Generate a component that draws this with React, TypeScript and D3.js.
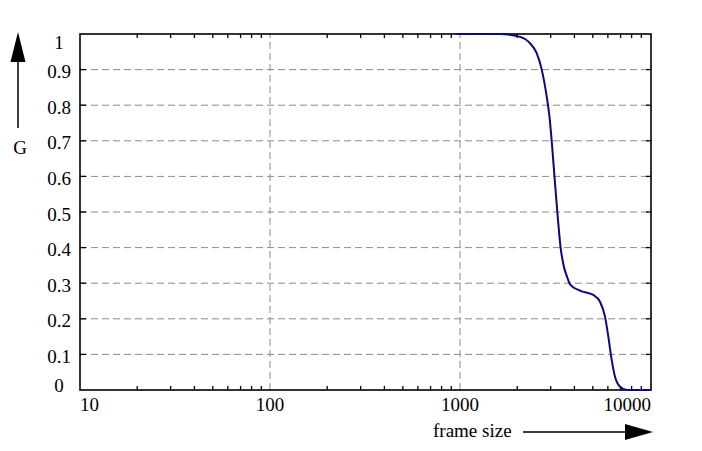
import { useEffect, useRef } from "react";
import * as d3 from "d3";

// frame size vs G
const frameSize = [
  960, 1274, 1624, 2070, 2336, 2533, 2692, 2860, 2958, 3050, 3144, 3252, 3388, 3505, 3688, 3793,
  4281, 5030, 5456, 5797, 6033, 6287, 6545, 6952, 7541, 8500, 10120,
];
const gValue = [
  1.0, 1.0, 1.0, 0.992, 0.974, 0.946, 0.9, 0.824, 0.767, 0.688, 0.598, 0.5, 0.398, 0.351, 0.313, 0.297,
  0.279, 0.267, 0.248, 0.206, 0.15, 0.084, 0.037, 0.009, 0.0, 0.0, 0.0,
];
const xTickValues = [10, 100, 1000, 10000];
const xTickLabels = ["10", "100", "1000", "10000"];
const yTickValues = [0, 0.1, 0.2, 0.3, 0.4, 0.5, 0.6, 0.7, 0.8, 0.9, 1];
const yTickLabels = ["0", "0.1", "0.2", "0.3", "0.4", "0.5", "0.6", "0.7", "0.8", "0.9", "1"];

const W = 702;
const H = 451;
const m = { left: 80, right: 51, top: 34, bottom: 61 };
const FONT = "'Liberation Serif', 'Times New Roman', serif";

export default function App() {
  const ref = useRef<SVGSVGElement>(null);

  useEffect(() => {
    const svg = d3.select(ref.current);
    svg.selectAll("*").remove();

    const x0 = m.left;
    const x1 = W - m.right;
    const y0 = H - m.bottom;
    const y1 = m.top;

    const x = d3.scaleLog().domain([10, 10120]).range([x0, x1]);
    const y = d3.scaleLinear().domain([0, 1]).range([y0, y1]);

    svg.append("rect").attr("width", W).attr("height", H).attr("fill", "#fff");

    // grid
    const grid = svg.append("g").attr("stroke", "#8a8a8a").attr("stroke-width", 1).attr("stroke-dasharray", "7,4");
    yTickValues
      .filter((v) => v > 0 && v < 1)
      .forEach((v) => {
        grid.append("line").attr("x1", x0).attr("x2", x1).attr("y1", y(v)).attr("y2", y(v));
      });
    [100, 1000].forEach((v) => {
      grid.append("line").attr("x1", x(v)).attr("x2", x(v)).attr("y1", y0).attr("y2", y1);
    });

    // minor ticks, inward on top and bottom
    const ticks = svg.append("g").attr("stroke", "#000").attr("stroke-width", 1.3);
    const minors: number[] = [];
    [10, 100, 1000].forEach((d) => {
      for (let k = 2; k <= 9; k++) minors.push(d * k);
    });
    minors.forEach((v) => {
      ticks.append("line").attr("x1", x(v)).attr("x2", x(v)).attr("y1", y0).attr("y2", y0 - 4);
      ticks.append("line").attr("x1", x(v)).attr("x2", x(v)).attr("y1", y1).attr("y2", y1 + 4);
    });
    yTickValues
      .filter((v) => v > 0 && v < 1)
      .forEach((v) => {
        ticks.append("line").attr("x1", x0).attr("x2", x0 + 6).attr("y1", y(v)).attr("y2", y(v));
        ticks.append("line").attr("x1", x1).attr("x2", x1 - 5).attr("y1", y(v)).attr("y2", y(v));
      });

    // frame
    svg
      .append("rect")
      .attr("x", x0)
      .attr("y", y1)
      .attr("width", x1 - x0)
      .attr("height", y0 - y1)
      .attr("fill", "none")
      .attr("stroke", "#000")
      .attr("stroke-width", 1.6);

    // curve
    const line = d3
      .line<number>()
      .x((_, i) => x(frameSize[i]))
      .y((d) => y(d))
      .curve(d3.curveMonotoneX);
    svg
      .append("path")
      .attr("d", line(gValue))
      .attr("fill", "none")
      .attr("stroke", "#0a0a80")
      .attr("stroke-width", 2);

    // y tick labels
    svg
      .append("g")
      .selectAll("text")
      .data(yTickValues)
      .join("text")
      .attr("x", 59)
      .attr("y", (v) => Math.min(Math.max(y(v) + 2, y1 + 8), y0 - 4.5))
      .attr("text-anchor", "middle")
      .attr("dominant-baseline", "central")
      .attr("font-family", FONT)
      .attr("font-size", 19)
      .text((_, i) => yTickLabels[i]);

    // x tick labels
    svg
      .append("g")
      .selectAll("text")
      .data(xTickValues)
      .join("text")
      .attr("x", (v, i) => (i === 0 ? x0 : i === xTickValues.length - 1 ? x1 : x(v)))
      .attr("y", y0 + 21)
      .attr("text-anchor", (_, i) => (i === 0 ? "start" : i === xTickValues.length - 1 ? "end" : "middle"))
      .attr("font-family", FONT)
      .attr("font-size", 19)
      .text((_, i) => xTickLabels[i]);

    // axis titles with arrows
    svg
      .append("text")
      .attr("x", 433)
      .attr("y", 437)
      .attr("font-family", FONT)
      .attr("font-size", 19)
      .text("frame size");
    svg.append("line").attr("x1", 523).attr("x2", 630).attr("y1", 432).attr("y2", 432).attr("stroke", "#000").attr("stroke-width", 1.5);
    svg.append("path").attr("d", "M653,432 L625,424 L625,440 Z").attr("fill", "#000");

    svg
      .append("text")
      .attr("x", 20)
      .attr("y", 147)
      .attr("text-anchor", "middle")
      .attr("dominant-baseline", "central")
      .attr("font-family", FONT)
      .attr("font-size", 19)
      .text("G");
    svg.append("line").attr("x1", 18).attr("x2", 18).attr("y1", 128).attr("y2", 58).attr("stroke", "#000").attr("stroke-width", 1.5);
    svg.append("path").attr("d", "M18,32 L10.5,62 L25.5,62 Z").attr("fill", "#000");
  }, []);

  return (
    <div style={{ position: "fixed", left: 0, top: 0 }}>
      <svg ref={ref} width={W} height={H} style={{ display: "block" }} />
    </div>
  );
}
